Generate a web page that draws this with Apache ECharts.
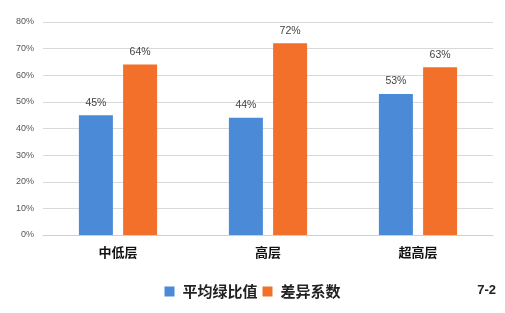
<!DOCTYPE html>
<html><head><meta charset="utf-8">
<script src="https://cdn.jsdelivr.net/npm/echarts@6/dist/echarts.min.js"></script>
<style>html,body{margin:0;padding:0;background:#fff}#c{width:505px;height:313px}</style>
</head><body><div id="c"></div>
<script>
const categories = ['中低层', '高层', '超高层'];
const seriesNames = ['平均绿比值', '差异系数'];
const avgGreenRatio = [45, 44, 53];
const diffCoef = [64, 72, 63];
const yTicks = [0, 10, 20, 30, 40, 50, 60, 70, 80];
const figLabel = '7-2';

const chart = echarts.init(document.getElementById('c'));
const lbl = {show: true, position: 'top', distance: 7, formatter: '{c}%', color: '#444', fontSize: 10.5, fontFamily: 'Liberation Sans, Arial'};
chart.setOption({
  animation: false,
  grid: {left: 43, right: 12, top: 22, bottom: 78},
  legend: {
    data: seriesNames, icon: 'rect', top: 279, left: 'center', itemWidth: 10, itemHeight: 10, itemGap: 5,
    textStyle: {fontSize: 15, color: '#222', fontWeight: 'bold', fontFamily: 'Noto Sans CJK SC', padding: [0, 0, 0, 3]}
  },
  graphic: [{type: 'text', right: 9, top: 284, style: {text: figLabel, fontSize: 13, fontWeight: 'bold', fill: '#222', fontFamily: 'Liberation Sans'}}],
  xAxis: {
    type: 'category', data: categories,
    axisLine: {lineStyle: {color: '#cfcfcf'}}, axisTick: {show: false},
    axisLabel: {fontSize: 13, color: '#111', fontWeight: 'bold', margin: 11, fontFamily: 'Noto Sans CJK SC'}
  },
  yAxis: {
    type: 'value', min: yTicks[0], max: yTicks[yTicks.length - 1], interval: 10,
    axisLabel: {formatter: '{value}%', fontSize: 9, color: '#555', margin: 9, fontFamily: 'Liberation Sans'},
    splitLine: {lineStyle: {color: '#d9d9d9'}}, axisLine: {show: false}, axisTick: {show: false}
  },
  series: [
    {name: seriesNames[0], type: 'bar', data: avgGreenRatio, barWidth: 34, barGap: '30%', itemStyle: {color: '#4a8ad6'}, label: lbl},
    {name: seriesNames[1], type: 'bar', data: diffCoef, barWidth: 34, itemStyle: {color: '#f2702a'}, label: lbl}
  ]
});
</script></body></html>
